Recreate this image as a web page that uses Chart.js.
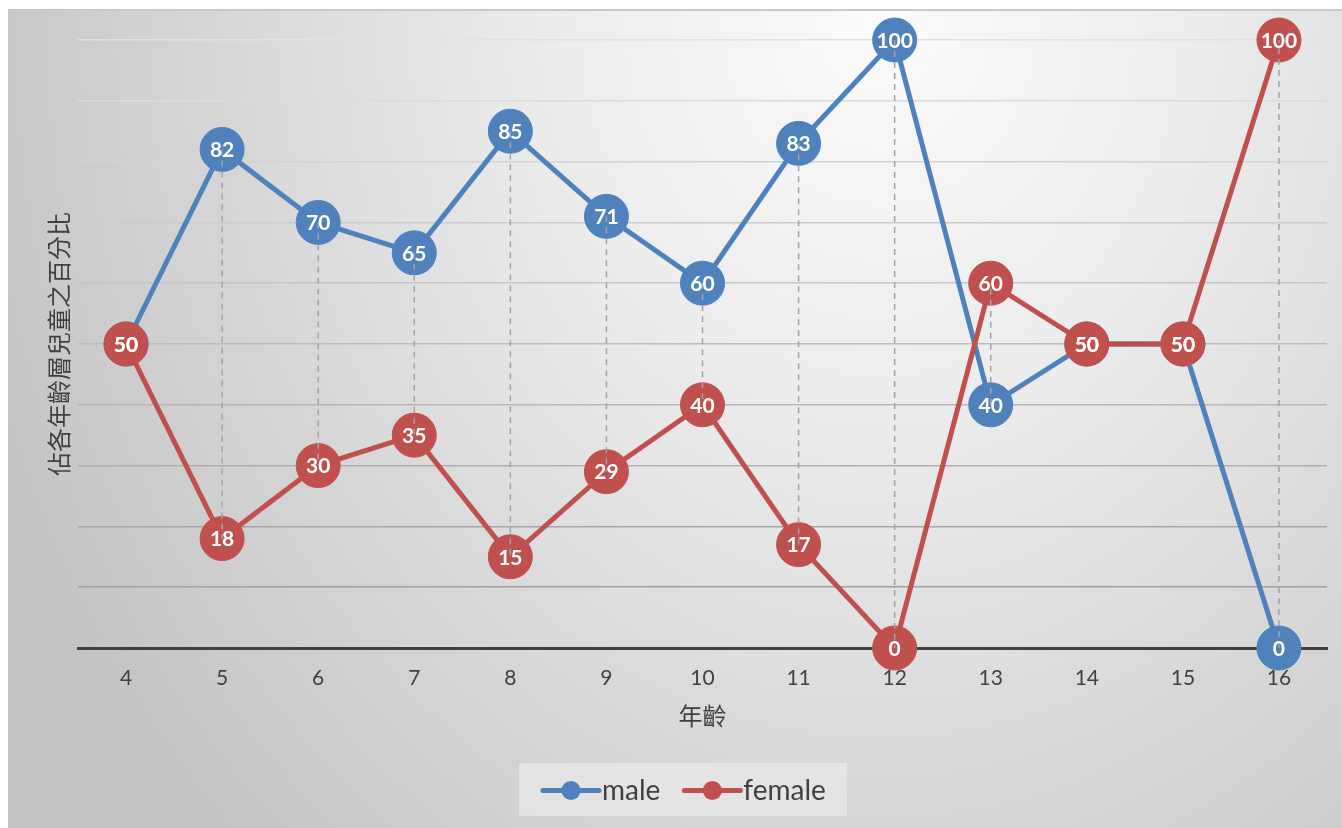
<!DOCTYPE html>
<html>
<head>
<meta charset="utf-8">
<script src="https://cdn.jsdelivr.net/npm/chart.js@4.4.1/dist/chart.umd.min.js"></script>
<style>
  html, body { margin: 0; padding: 0; background: #fff; width: 1342px; height: 828px; overflow: hidden; }
  #frame {
    position: absolute; left: 8px; top: 9px; width: 1334px; height: 817px;
    border-top: 2px solid #c8c8c8;
    background: radial-gradient(ellipse 950px 1150px at 872px 0px, #fbfbfb 0%, #ececec 35%, #d6d6d6 70%, #c4c4c4 100%);
  }
  canvas { display: block; }
</style>
</head>
<body>
<div id="frame"><canvas id="chart" width="1334" height="817"></canvas></div>
<script>
// Age groups and share of children (percent) per group
const ages = ['4', '5', '6', '7', '8', '9', '10', '11', '12', '13', '14', '15', '16'];
const male = [50, 82, 70, 65, 85, 71, 60, 83, 100, 40, 50, 50, 0];
const female = [50, 18, 30, 35, 15, 29, 40, 17, 0, 60, 50, 50, 100];
const seriesNames = ['male', 'female'];
const seriesColors = ['#4f81bd', '#c0504d'];
const xTitle = '年齡';
const yTitle = '佔各年齡層兒童之百分比';

const TEXT = '#404040';
const LATIN = 'Lato, "Open Sans", sans-serif';
const CJK = '"Noto Sans CJK TC", "Noto Sans CJK SC", sans-serif';

// gridlines fade from light at the top to darker near the axis
function gridShade(v) {
  const t = Math.max(0, Math.min(1, (v - 10) / 90));
  const c = Math.round(160 + (226 - 160) * t);
  return `rgb(${c},${c},${c})`;
}

// dashed high-low connectors between the two series
const highLowLines = {
  id: 'highLowLines',
  afterDatasetsDraw(chart) {
    const { ctx } = chart;
    const a = chart.getDatasetMeta(0).data;
    const b = chart.getDatasetMeta(1).data;
    ctx.save();
    ctx.strokeStyle = '#a4a4a4';
    ctx.lineWidth = 1.5;
    ctx.setLineDash([6, 5]);
    ages.forEach((_, i) => {
      if (male[i] === female[i]) return;
      const x = a[i].x;
      ctx.beginPath();
      ctx.moveTo(x, a[i].y);
      ctx.lineTo(x, b[i].y);
      ctx.stroke();
    });
    ctx.restore();
  }
};

// value labels centred inside each marker
const valueLabels = {
  id: 'valueLabels',
  afterDatasetsDraw(chart) {
    const { ctx } = chart;
    ctx.save();
    ctx.fillStyle = '#ffffff';
    ctx.font = `bold 21px ${LATIN}`;
    ctx.textAlign = 'center';
    ctx.textBaseline = 'middle';
    [0, 1].forEach(d => {
      const vals = chart.data.datasets[d].data;
      chart.getDatasetMeta(d).data.forEach((pt, i) => {
        ctx.fillText(String(vals[i]), pt.x, pt.y + 1);
      });
    });
    ctx.restore();
  }
};

// legend box with line-and-marker keys
const legendBox = {
  id: 'legendBox',
  afterDraw(chart) {
    const { ctx } = chart;
    const box = { x: 511, y: 752, w: 328, h: 53 };
    const cy = box.y + box.h / 2 + 1;
    ctx.save();
    ctx.fillStyle = 'rgba(232,232,232,0.75)';
    ctx.fillRect(box.x, box.y, box.w, box.h);
    ctx.font = `28px ${LATIN}`;
    ctx.textBaseline = 'middle';
    ctx.textAlign = 'left';
    let x = 535;
    seriesNames.forEach((name, i) => {
      ctx.strokeStyle = seriesColors[i];
      ctx.lineWidth = 5;
      ctx.lineCap = 'round';
      ctx.beginPath();
      ctx.moveTo(x, cy);
      ctx.lineTo(x + 56, cy);
      ctx.stroke();
      ctx.fillStyle = seriesColors[i];
      ctx.beginPath();
      ctx.arc(x + 28, cy, 9.5, 0, Math.PI * 2);
      ctx.fill();
      ctx.fillStyle = TEXT;
      ctx.fillText(name, x + 59, cy);
      x += 59 + ctx.measureText(name).width + 24;
    });
    ctx.restore();
  }
};

function seriesDataset(idx, values, order) {
  return {
    label: seriesNames[idx],
    data: values,
    order: order,
    borderColor: seriesColors[idx],
    backgroundColor: seriesColors[idx],
    borderWidth: 5,
    tension: 0,
    pointRadius: 22,
    pointHoverRadius: 22,
    pointBorderWidth: 1,
    pointBorderColor: seriesColors[idx],
    pointBackgroundColor: seriesColors[idx],
    clip: false
  };
}

new Chart(document.getElementById('chart'), {
  type: 'line',
  data: {
    labels: ages,
    datasets: [seriesDataset(0, male, 2), seriesDataset(1, female, 1)]
  },
  options: {
    responsive: false,
    animation: false,
    devicePixelRatio: 1,
    events: [],
    layout: { autoPadding: false, padding: { top: 29, right: 15, bottom: 0, left: 0 } },
    plugins: { legend: { display: false }, tooltip: { enabled: false } },
    scales: {
      x: {
        type: 'category',
        offset: true,
        grid: { display: true, drawOnChartArea: false, drawTicks: false },
        border: { display: true, color: '#404040', width: 3 },
        ticks: { color: TEXT, font: { family: LATIN, size: 21 }, padding: 18 },
        title: {
          display: true, text: xTitle, color: TEXT,
          font: { family: CJK, size: 24 }, padding: { top: 0, bottom: 98 }
        },
        afterFit(s) { s.height = 180; }
      },
      y: {
        min: 0, max: 100,
        ticks: { display: false, stepSize: 10 },
        grid: { color: c => gridShade(c.tick ? c.tick.value : 50), lineWidth: 1.5, drawTicks: false },
        border: { display: false },
        title: {
          display: true, text: yTitle, color: TEXT,
          font: { family: CJK, size: 24 }, padding: { top: 36, bottom: 0 }
        },
        afterFit(s) { s.width = 70; }
      }
    }
  },
  plugins: [highLowLines, valueLabels, legendBox]
});
</script>
</body>
</html>
